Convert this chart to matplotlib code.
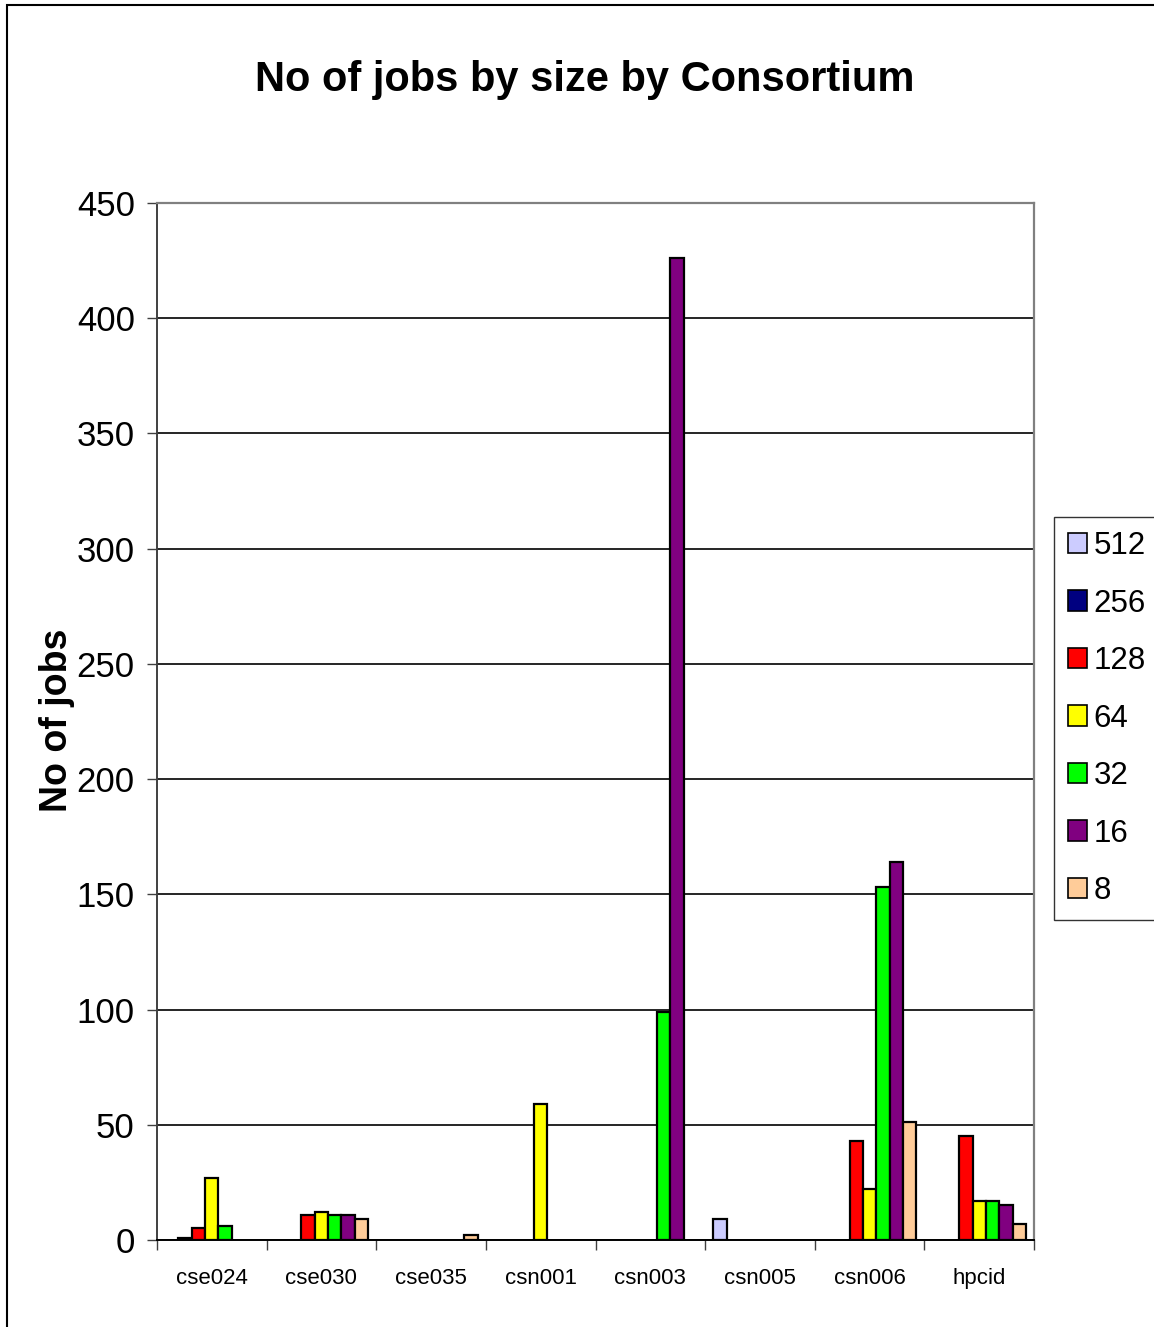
import matplotlib
matplotlib.use("Agg")
import matplotlib.pyplot as plt
import numpy as np
from matplotlib.patches import Patch, Rectangle

plt.rcParams['font.family'] = ['Liberation Sans', 'DejaVu Sans']

consortia = ['cse024', 'cse030', 'cse035', 'csn001', 'csn003', 'csn005', 'csn006', 'hpcid']
sizes = ['512', '256', '128', '64', '32', '16', '8']

jobs_512 = [0, 0, 0, 0, 0, 9, 0, 0]
jobs_256 = [1, 0, 0, 0, 0, 0, 0, 0]
jobs_128 = [5, 11, 0, 0, 0, 0, 43, 45]
jobs_64 = [27, 12, 0, 59, 0, 0, 22, 17]
jobs_32 = [6, 11, 0, 0, 99, 0, 153, 17]
jobs_16 = [0, 11, 0, 0, 426, 0, 164, 15]
jobs_8 = [0, 9, 2, 0, 0, 0, 51, 7]

colors = ['#CCCCFF', '#000080', '#FF0000', '#FFFF00', '#00FF00', '#800080', '#FFCC99']
series = [jobs_512, jobs_256, jobs_128, jobs_64, jobs_32, jobs_16, jobs_8]

W, H = 1154, 1327
fig = plt.figure(figsize=(W / 100, H / 100), dpi=100)
ax = fig.add_axes([157 / W, 1 - 1240 / H, (1034 - 157) / W, (1240 - 203) / H])

x = np.arange(len(consortia))
bw = 0.122
for k, (vals, c) in enumerate(zip(series, colors)):
    vals = np.array(vals, dtype=float)
    keep = vals > 0  # empty cells draw no bar
    ax.bar(x[keep] + (k - 3) * bw, vals[keep], width=bw, color=c,
           edgecolor='black', linewidth=1.6, zorder=3)

ax.set_xlim(-0.5, len(consortia) - 0.5)
ax.set_ylim(0, 450)
ax.set_yticks(np.arange(0, 451, 50))
ax.yaxis.grid(True, color='black', linewidth=1.2, zorder=0)
ax.set_axisbelow(True)

ax.set_xticks(x)
ax.set_xticklabels(consortia, fontsize=16)
ax.set_xticks(np.arange(-0.5, len(consortia)), minor=True)
ax.tick_params(axis='x', which='major', length=0, pad=20)
ax.tick_params(axis='x', which='minor', length=7, width=1, color='#404040', direction='out')
ax.tick_params(axis='y', length=7, width=1, color='#404040', direction='out',
               labelsize=25, pad=9)

for s in ['top', 'right']:
    ax.spines[s].set_color('#808080')
    ax.spines[s].set_linewidth(1.6)
ax.spines['left'].set_color('#404040')
ax.spines['left'].set_linewidth(1.4)
ax.spines['bottom'].set_color('black')
ax.spines['bottom'].set_linewidth(1.4)

fig.text(585 / W, 1 - 80 / H, 'No of jobs by size by Consortium', fontsize=30,
         fontweight='bold', ha='center', va='center')
fig.text(57 / W, 1 - 720 / H, 'No of jobs', fontsize=27, fontweight='bold',
         rotation=90, ha='center', va='center')

handles = [Patch(facecolor=c, edgecolor='black', linewidth=1.2) for c in colors]
leg = fig.legend(handles, sizes, loc='upper left', bbox_to_anchor=(1054 / W, 1 - 517 / H),
                 bbox_transform=fig.transFigure, borderaxespad=0, fontsize=22.5,
                 frameon=True, fancybox=False, handlelength=0.62, handleheight=0.62,
                 handletextpad=0.2, labelspacing=0.88, borderpad=0.45)
leg.get_frame().set_edgecolor('black')
leg.get_frame().set_linewidth(1.0)

# outer chart border, only left and top edges fall inside the image
fig.patches.append(Rectangle((7 / W, -0.1), 2, 1.1 - 5 / H, transform=fig.transFigure,
                             fill=False, edgecolor='black', linewidth=1.5))

fig.savefig('out.png', dpi=100)
